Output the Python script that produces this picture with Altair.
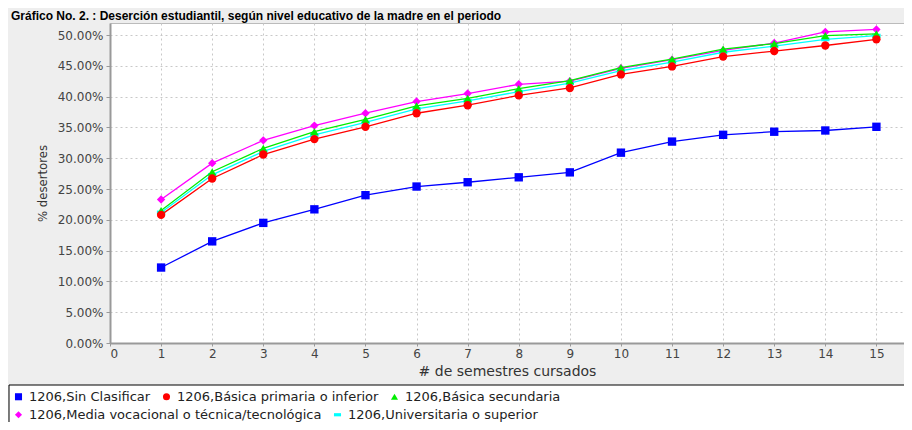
import altair as alt
import pandas as pd

semestres = list(range(1, 16))
series_names = [
    "1206,Sin Clasificar",
    "1206,Básica primaria o inferior",
    "1206,Básica secundaria",
    "1206,Media vocacional o técnica/tecnológica",
    "1206,Universitaria o superior",
]
sin_clasificar = [12.25, 16.5, 19.5, 21.7, 24.0, 25.4, 26.1, 26.9, 27.7, 30.9, 32.7, 33.8, 34.3, 34.5, 35.1]
basica_primaria = [20.8, 26.7, 30.6, 33.1, 35.1, 37.3, 38.6, 40.2, 41.4, 43.6, 44.9, 46.5, 47.4, 48.3, 49.3]
basica_secundaria = [21.5, 27.8, 31.6, 34.3, 36.3, 38.5, 39.7, 41.3, 42.6, 44.7, 46.1, 47.7, 48.6, 49.9, 50.2]
media_vocacional = [23.3, 29.2, 32.9, 35.3, 37.3, 39.2, 40.5, 42.0, 42.5, 44.6, 46.0, 47.5, 48.7, 50.5, 50.9]
universitaria = [21.2, 27.3, 31.1, 33.8, 35.8, 38.0, 39.3, 40.8, 42.2, 44.2, 45.6, 47.2, 48.2, 49.3, 49.9]
colors = ["#0000ff", "#ff0000", "#00ee00", "#ff00ff", "#00ffff"]
shapes = ["square", "circle", "triangle-up", "diamond", "M-1,-0.45H1V0.45H-1Z"]
x_ticks = list(range(0, 16))
y_ticks = [round(i * 0.05, 2) for i in range(0, 11)]
title_text = "Gráfico No. 2. : Deserción estudiantil, según nivel educativo de la madre en el periodo"

all_values = [sin_clasificar, basica_primaria, basica_secundaria, media_vocacional, universitaria]


def make_df(indices):
    rows = []
    for idx in indices:
        for s, v in zip(semestres, all_values[idx]):
            rows.append({"serie": series_names[idx], "sem": s, "pct": v / 100.0, "orden": -idx})
    return pd.DataFrame(rows)


group_a = [0, 1, 2]
group_b = [3, 4]

xscale = alt.Scale(domain=[0, 15.54], nice=False, zero=False)
yscale = alt.Scale(domain=[0, 0.5195], nice=False)

xaxis = alt.Axis(values=x_ticks, format="d", title="# de semestres cursados",
                 grid=True, gridColor="#c8c8c8", gridDash=[2, 3], gridWidth=1,
                 domainColor="#999999", domainWidth=2, tickColor="#999999", tickSize=3,
                 labelColor="#444444", labelFontSize=12, labelFont="DejaVu Sans",
                 labelOverlap=False,
                 titleFont="DejaVu Sans", titleFontSize=14, titleFontWeight="normal",
                 titleColor="#333333", titlePadding=5, labelPadding=2)
yaxis = alt.Axis(values=y_ticks, format=".2%", title="% desertores",
                 grid=True, gridColor="#c8c8c8", gridDash=[2, 3], gridWidth=1,
                 domainColor="#999999", domainWidth=2, tickColor="#999999", tickSize=4,
                 labelColor="#444444", labelFontSize=12, labelFont="DejaVu Sans",
                 labelOverlap=False, labelPadding=3,
                 titleFont="DejaVu Sans Condensed", titleFontSize=13, titleFontWeight="normal",
                 titleColor="#333333", titlePadding=8)


def group_layer(indices, legend_y):
    dfg = make_df(indices)
    names = [series_names[i] for i in indices]
    cscale = alt.Scale(domain=names, range=[colors[i] for i in indices])
    sscale = alt.Scale(domain=names, range=[shapes[i] for i in indices])
    legend = alt.Legend(title=None, orient="none", legendX=-100, legendY=legend_y,
                        direction="horizontal", columnPadding=9,
                        labelFont="DejaVu Sans", labelFontSize=13,
                        labelColor="#222222", symbolSize=50, labelOffset=4,
                        symbolStrokeWidth=0, padding=2, labelLimit=400, zindex=2)
    base = alt.Chart(dfg).encode(
        x=alt.X("sem:Q", scale=xscale, axis=xaxis),
        y=alt.Y("pct:Q", scale=yscale, axis=yaxis),
        color=alt.Color("serie:N", scale=cscale, legend=legend),
    )
    lines = base.mark_line(strokeWidth=1.3).encode(detail="serie:N")
    points = base.mark_point(filled=True, size=70, opacity=1).encode(
        shape=alt.Shape("serie:N", scale=sscale, legend=legend),
        order=alt.Order("orden:Q"),
    )
    return alt.layer(lines, points)


frame = alt.Chart(pd.DataFrame({"k": [0]})).mark_rect(
    fill="white", stroke="black", strokeWidth=1
).encode(
    x=alt.value(-101), x2=alt.value(800), y=alt.value(362), y2=alt.value(440)
)

title = alt.Chart(pd.DataFrame({"t": [title_text]})).mark_text(
    align="left", baseline="alphabetic", font="Liberation Sans", fontSize=12,
    fontWeight="bold", color="black"
).encode(x=alt.value(-99), y=alt.value(-3), text="t:N")

layer_b = group_layer(group_b, 383)
layer_a = group_layer(group_a, 365)

chart = alt.layer(frame, layer_b, layer_a, title).resolve_scale(
    color="independent", shape="independent"
).properties(
    width=794, height=320,
    background="#eeeeee",
    padding={"left": 102, "top": 15, "right": 0, "bottom": 79},
    autosize=alt.AutoSizeParams(type="none"),
).configure_view(fill="white", stroke="#bbbbbb", strokeWidth=1)

chart.save("out.html", embed_options={"renderer": "svg", "actions": False})
